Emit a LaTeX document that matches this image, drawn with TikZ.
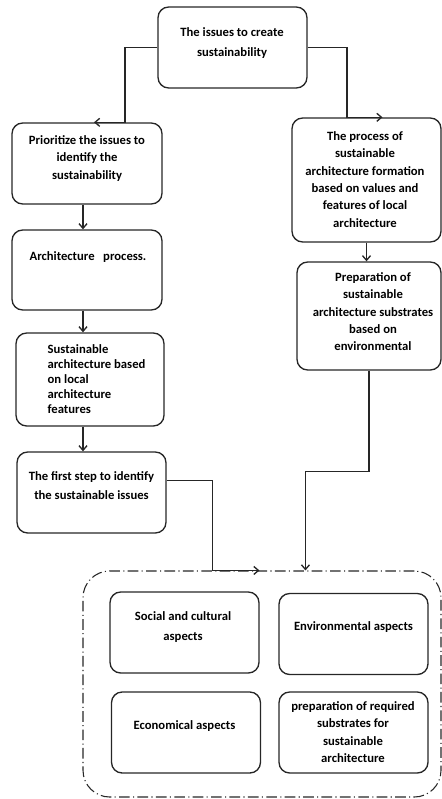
\documentclass[tikz,border=0pt]{standalone}
\usepackage{fontspec}
\setmainfont{Carlito}
\usetikzlibrary{calc,arrows.meta}
\tikzset{every picture/.style={line width=1pt}}
\tikzset{
  blk/.style={draw=black!85, rounded corners=8pt, inner sep=0pt, minimum width=111.75pt, minimum height=60.75pt},
  lbl/.style={anchor=north, inner sep=0pt, align=center, font=\fontsize{9.5}{13}\selectfont\bfseries},
  arr/.style={-{Straight Barb[length=3.5pt,width=6pt]}, draw=black!85},
}

\begin{document}
\begin{tikzpicture}[x=0.75pt,y=0.75pt,yscale=-1]
\useasboundingbox (0,0) rectangle (442,799);

%Shapes: boxes
\node [blk] (top) at (232.5,47.5) {};
\node [blk, minimum width=112.5pt] (prio) at (87,163.5) {};
\node [blk, minimum width=112.5pt, minimum height=60pt] (archproc) at (87,270) {};
\node [blk, minimum width=111pt, minimum height=69.75pt] (localarch) at (90,379.5) {};
\node [blk] (firststep) at (91.5,492.5) {};
\node [blk, minimum height=93pt] (formation) at (366.5,180) {};
\node [blk, minimum width=108pt, minimum height=81pt] (substrates) at (369,316) {};
%Shape: dash dot frame
\node [draw=black!85, line width=0.8pt, dash pattern=on 8pt off 2.5pt on 0.8pt off 2.5pt, rounded corners=20pt, minimum width=268.5pt, minimum height=169.5pt, inner sep=0pt] (aspects) at (262,684) {};
\node [blk] (social) at (184.5,632.5) {};
\node [blk] (environ) at (353.5,634) {};
\node [blk] (econ) at (186,732.5) {};
\node [blk] (required) at (353.5,732.5) {};

%Connectors
\draw [arr] (top.west) -| ($(prio.north)+(38,0)$) -- ($(prio.north)+(7,0)$);
\draw [arr] (top.east) -| ($(formation.north)+(-19.5,0)$) -- ($(formation.north)+(16,0)$);
\draw [arr] ($(prio.south)+(-4,0)$) -- ($(archproc.north)+(-4,0)$);
\draw [arr] ($(archproc.south)+(-4,0)$) -- ($(localarch.north)+(-7,0)$);
\draw [arr] ($(localarch.south)+(-7,0)$) -- ($(firststep.north)+(-8.5,0)$);
\draw [arr] (formation.south) -- ($(substrates.north)+(-2.5,0)$) ;
\draw [arr] ($(firststep.north east)+(0,29)$) -| ($(aspects.north west)+(130,0)$) -- ($(aspects.north west)+(177,0)$);
\draw [arr] (substrates.south) -- ++(0,101) -| ($(aspects.north west)+(223,0)$);

% Text Nodes
\node [lbl, font=\fontsize{9.5}{15}\selectfont\bfseries] (top-t) at (232,27) {The issues to create\\sustainability};
\node [lbl] (prio-t) at (87,135) {Prioritize the issues to\\identify the\\sustainability};
\node [lbl] (archproc-t) at (88,251) {Architecture\ \ \ process.};
\node [lbl, anchor=north west, align=left, font=\fontsize{9.5}{11.25}\selectfont\bfseries] (localarch-t) at (47,344) {Sustainable\\architecture based\\on local\\architecture\\features};
\node [lbl, font=\fontsize{9.5}{14}\selectfont\bfseries] (firststep-t) at (91.5,471) {The first step to identify\\the sustainable issues};
\node [lbl] (formation-t) at (365,131) {The process of\\sustainable\\architecture formation\\based on values and\\features of local\\architecture};
\node [lbl] (substrates-t) at (373,272) {Preparation of\\sustainable\\architecture substrates\\based on\\environmental};
\node [lbl, font=\fontsize{9.5}{15}\selectfont\bfseries] (social-t) at (183,611) {Social and cultural\\aspects};
\node [lbl] (environ-t) at (353.5,621) {Environmental aspects};
\node [lbl] (econ-t) at (184.5,720) {Economical aspects};
\node [lbl] (required-t) at (353,701) {preparation of required\\substrates for\\sustainable\\architecture};

\end{tikzpicture}
\end{document}
